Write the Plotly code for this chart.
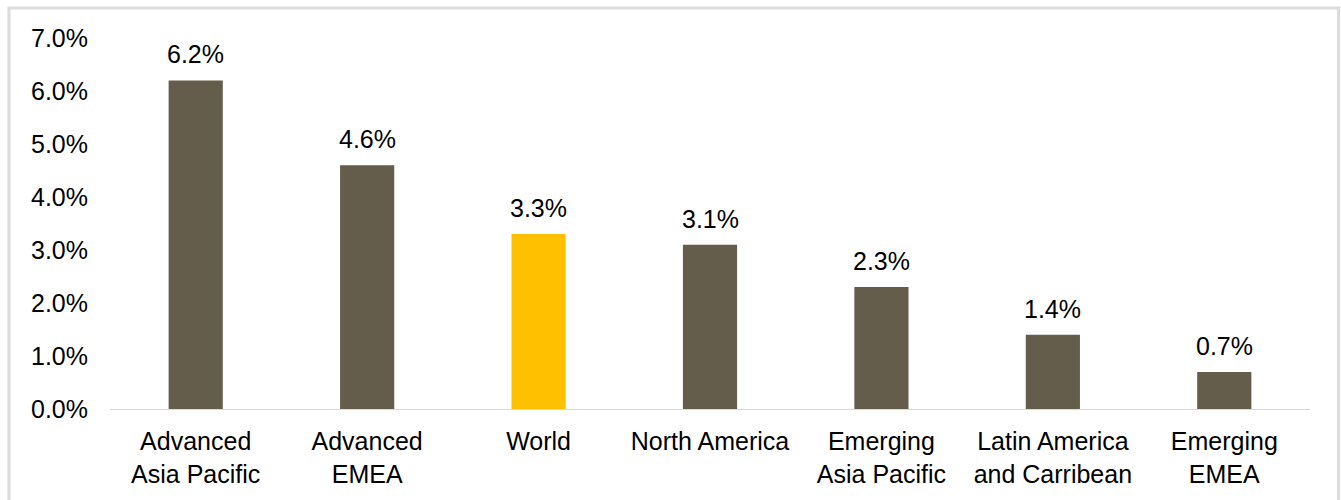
import plotly.graph_objects as go

# Regional growth rates
regions = [
    "Advanced<br>Asia Pacific",
    "Advanced<br>EMEA",
    "World",
    "North America",
    "Emerging<br>Asia Pacific",
    "Latin America<br>and Carribean",
    "Emerging<br>EMEA",
]
growth_pct = [6.2, 4.6, 3.3, 3.1, 2.3, 1.4, 0.7]
highlight = "World"

y_ticks = [0, 1, 2, 3, 4, 5, 6, 7]
y_tick_text = [f"{v:.1f}%" for v in y_ticks]

BAR = "#655D4C"
GOLD = "#FFC000"
FONT = "Liberation Sans, Arial, sans-serif"
FS = 25

colors = [GOLD if r == highlight else BAR for r in regions]

fig = go.Figure(
    go.Bar(
        x=regions,
        y=growth_pct,
        marker=dict(color=colors, line=dict(width=0)),
        hoverinfo="skip",
    )
)

# value labels above each bar
for r, v in zip(regions, growth_pct):
    fig.add_annotation(
        x=r, y=v, text=f"{v:.1f}%", showarrow=False,
        yanchor="bottom", yshift=10,
        font=dict(family=FONT, size=FS, color="#000000"),
    )

# plot-area geometry in pixels (for the outer frame)
W, H = 1341, 500
L, R, T, B = 110, 31, 38, 91
pw, ph = W - L - R, H - T - B

def px_x(x):
    return (x - L) / pw

def px_y(y):
    return (H - B - y) / ph

fig.add_shape(
    type="rect", xref="paper", yref="paper",
    x0=px_x(9), x1=px_x(1338.5), y0=px_y(530), y1=px_y(8),
    line=dict(color="#DCDCDC", width=3), fillcolor="rgba(0,0,0,0)",
    layer="below",
)

fig.update_layout(
    width=W, height=H,
    margin=dict(l=L, r=R, t=T, b=B),
    paper_bgcolor="white", plot_bgcolor="white",
    bargap=0.684,
    showlegend=False,
    font=dict(family=FONT, size=FS, color="#000000"),
    xaxis=dict(
        showline=True, linecolor="#D9D9D9", linewidth=1,
        ticks="", showgrid=False, zeroline=False,
        tickfont=dict(family=FONT, size=FS, color="#000000"),
        ticklabelstandoff=10,
    ),
    yaxis=dict(
        range=[0, 7], tickvals=y_ticks, ticktext=y_tick_text,
        showline=False, showgrid=False, zeroline=False, ticks="",
        tickfont=dict(family=FONT, size=FS, color="#000000"),
        ticklabelstandoff=21,
    ),
)

fig.write_html("out.html")
